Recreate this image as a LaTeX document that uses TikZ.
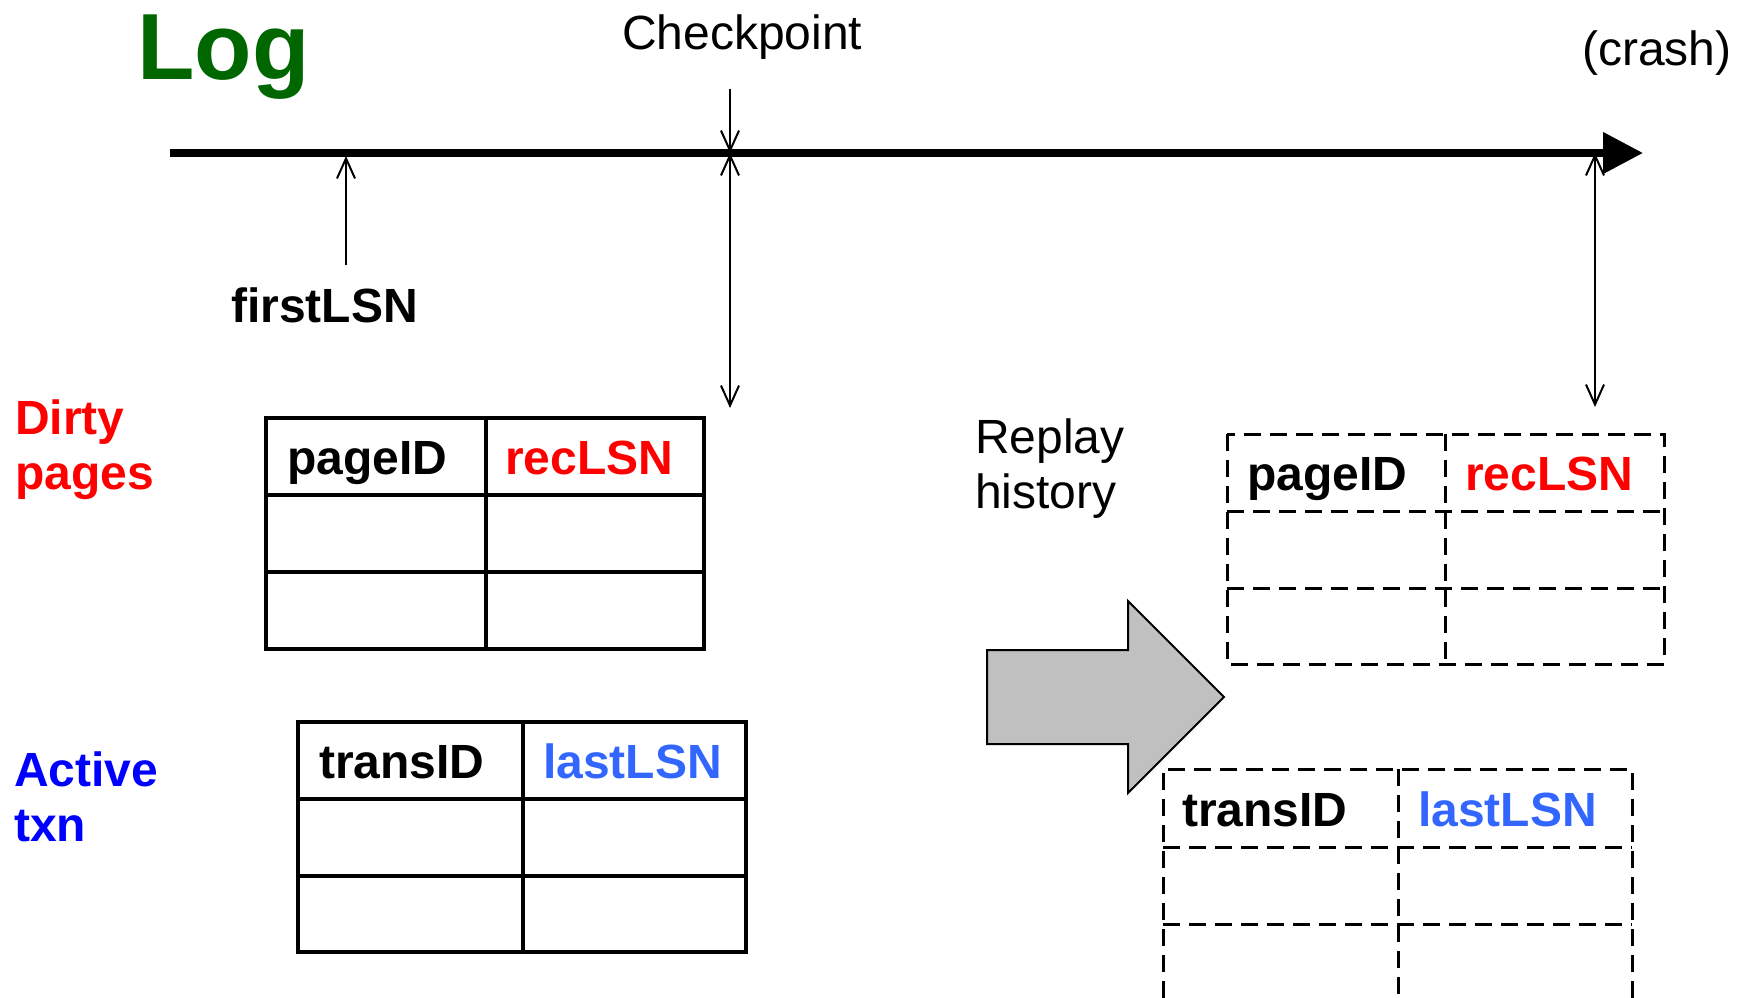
\documentclass[tikz,border=0pt]{standalone}
\usepackage{fontspec}
\setmainfont{Liberation Sans}
\usetikzlibrary{arrows.meta}
\definecolor{loggreen}{RGB}{0,102,0}
\definecolor{dirtyred}{RGB}{255,0,0}
\definecolor{txnblue}{RGB}{0,0,255}
\definecolor{lastblue}{RGB}{51,102,255}
\definecolor{bigarrowgray}{RGB}{192,192,192}
\tikzset{
  txt/.style={anchor=base west, inner sep=0pt, font=\fontsize{48}{58}\selectfont},
  btxt/.style={txt, font=\fontsize{48}{58}\selectfont\bfseries},
  thinarrow/.style={line width=2pt, -{Straight Barb[length=20pt,width=18pt]}},
  thinboth/.style={line width=2pt, {Straight Barb[length=20pt,width=18pt]}-{Straight Barb[length=20pt,width=18pt]}},
  solidtab/.style={line width=3.2pt, line cap=rect},
  dashtab/.style={line width=3pt, dash pattern=on 17pt off 9pt},
}
\begin{document}
\begin{tikzpicture}[x=1pt,y=-1pt]
\useasboundingbox (0,0) rectangle (1742,998);

% titles
\node[anchor=base west, inner sep=0pt, font=\fontsize{94}{110}\selectfont\bfseries, text=loggreen] (log) at (137,80) {Log};
\node[anchor=base west, inner sep=0pt, font=\fontsize{48}{58}\selectfont] (cpt) at (622,50) {Checkpoint};
\node[txt] (crash) at (1582,66) {(crash)};
\node[btxt] (first) at (231,322) {firstLSN};

% timeline
\coordinate (tlS) at (170,153);
\coordinate (tlE) at (1643,153);
\draw[line width=7.5pt, -{Triangle[length=40pt,width=40pt]}] (tlS) -- (tlE);

% thin arrows
\coordinate (cpTop) at (730,89);
\coordinate (cpOn) at (730,153);
\coordinate (cpBot) at (730,408);
\coordinate (flBot) at (346,265);
\coordinate (flOn) at (346,156);
\coordinate (crOn) at (1595,153);
\coordinate (crBot) at (1595,407);
\draw[thinarrow] (cpTop) -- (cpOn);
\draw[thinboth] (cpOn) -- (cpBot);
\draw[thinarrow] (flBot) -- (flOn);
\draw[thinboth] (crOn) -- (crBot);

% side labels
\node[btxt, text=dirtyred] (dirty) at (15,434) {Dirty};
\node[btxt, text=dirtyred] (pages) at (15,489) {pages};
\node[btxt, text=txnblue] (active) at (14,786) {Active};
\node[btxt, text=txnblue] (txn) at (14,841) {txn};
\node[txt] (replay) at (975,453) {Replay};
\node[txt] (history) at (975,508) {history};

% table 1 (solid)
\draw[solidtab] (266,418) rectangle (704,649);
\draw[solidtab] (486,418) -- (486,649);
\draw[solidtab] (266,495) -- (704,495);
\draw[solidtab] (266,572) -- (704,572);
\node[btxt] (t1a) at (287,474) {pageID};
\node[btxt, text=dirtyred] (t1b) at (505,474) {recLSN};

% table 2 (solid)
\draw[solidtab] (298,722) rectangle (746,952);
\draw[solidtab] (523,722) -- (523,952);
\draw[solidtab] (298,799) -- (746,799);
\draw[solidtab] (298,876) -- (746,876);
\node[btxt] (t2a) at (319,778) {transID};
\node[btxt, text=lastblue] (t2b) at (543,778) {lastLSN};

% big gray arrow
\draw[line width=2pt, fill=bigarrowgray, line join=miter]
  (987,650) -- (1128,650) -- (1128,601) -- (1224,697) -- (1128,793) -- (1128,744) -- (987,744) -- cycle;

% table 3 (dashed)
\draw[dashtab] (1227,434) rectangle (1664,664);
\draw[dashtab] (1445,434) -- (1445,664);
\draw[dashtab] (1227,511) -- (1664,511);
\draw[dashtab] (1227,588) -- (1664,588);
\node[btxt] (t3a) at (1247,490) {pageID};
\node[btxt, text=dirtyred] (t3b) at (1465,490) {recLSN};

% table 4 (dashed, cut off)
\draw[dashtab] (1163,998) -- (1163,769) -- (1632,769) -- (1632,998);
\draw[dashtab] (1398,769) -- (1398,998);
\draw[dashtab] (1163,847) -- (1632,847);
\draw[dashtab] (1163,924) -- (1632,924);
\node[btxt] (t4a) at (1182,826) {transID};
\node[btxt, text=lastblue] (t4b) at (1418,826) {lastLSN};
\end{tikzpicture}
\end{document}
